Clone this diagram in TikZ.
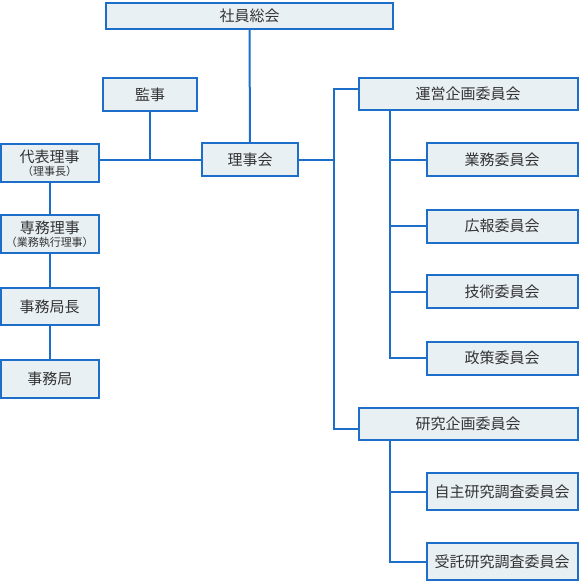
\documentclass[tikz,border=0pt]{standalone}
\usepackage{fontspec}
\setmainfont{Noto Sans CJK JP}
\usepackage{xcolor}
\definecolor{linieblau}{HTML}{1C6EC8}
\definecolor{kastenfill}{HTML}{E9F0F4}
\definecolor{schrift}{HTML}{333333}

\tikzset{
  orgbox/.style={draw=linieblau, fill=kastenfill, line width=2pt, inner sep=0pt,
    text=schrift, align=center, font=\fontsize{15}{17}\selectfont},
  orgline/.style={draw=linieblau, line width=2pt}
}
\newcommand{\klein}[1]{{\fontsize{11}{12}\selectfont #1}}

\begin{document}
\begin{tikzpicture}[x=1pt, y=-1pt]
            \useasboundingbox (0,0) rectangle (579,582);

            % Leitung links
            \node[orgbox, minimum width=287pt, minimum height=26pt] (soukai) at (249.5,15.5) {社員総会};
            \node[orgbox, minimum width=94pt, minimum height=33pt] (kanji) at (150,94.5) {監事};
            \node[orgbox, minimum width=96pt, minimum height=33pt] (rijikai) at (250,159.5) {理事会};
            \node[orgbox, minimum width=97.5pt, minimum height=38pt] (daihyo) at (49.75,163) {代表理事\\[-4pt]\klein{（理事長）}};
            \node[orgbox, minimum width=97.5pt, minimum height=38pt] (senmu) at (49.75,234) {専務理事\\[-4pt]\klein{（業務執行理事）}};
            \node[orgbox, minimum width=97.5pt, minimum height=37pt] (kyokucho) at (49.75,306.5) {事務局長};
            \node[orgbox, minimum width=97.5pt, minimum height=38pt] (kyoku) at (49.75,379) {事務局};

            % Ausschuesse rechts
            \node[orgbox, minimum width=219pt, minimum height=32pt] (unei) at (468,94) {運営企画委員会};
            \node[orgbox, minimum width=151pt, minimum height=33pt] (gyomu) at (502,159.5) {業務委員会};
            \node[orgbox, minimum width=151pt, minimum height=33pt] (koho) at (502,226) {広報委員会};
            \node[orgbox, minimum width=151pt, minimum height=33pt] (gijutsu) at (502,291.5) {技術委員会};
            \node[orgbox, minimum width=151pt, minimum height=33pt] (seisaku) at (502,358) {政策委員会};
            \node[orgbox, minimum width=219pt, minimum height=32pt] (kenkyu) at (468,424) {研究企画委員会};
            \node[orgbox, minimum width=151pt, minimum height=37pt] (jishu) at (502,491.5) {自主研究調査委員会};
            \node[orgbox, minimum width=151pt, minimum height=37pt] (jutaku) at (502,561.5) {受託研究調査委員会};

            \coordinate (stammoben) at (334,89);
            \coordinate (stammunten) at (334,429);
            \coordinate (ast) at (390,0);

            % Verbindungen
            \draw[orgline] (soukai) -- (rijikai);
            \draw[orgline] (rijikai.west) -- (rijikai.west -| daihyo.east);
            \draw[orgline] (kanji) -- (kanji |- rijikai);
            \draw[orgline] (daihyo) -- (senmu);
            \draw[orgline] (senmu) -- (kyokucho);
            \draw[orgline] (kyokucho) -- (kyoku);
            \draw[orgline] (rijikai.east) -- (rijikai.east -| stammoben);
            \draw[orgline] (unei.west |- stammoben) -- (stammoben) -- (stammunten) -- (kenkyu.west |- stammunten);

            \draw[orgline] (ast |- unei.south) -- (ast |- seisaku) -- (seisaku.west);
            \draw[orgline] (ast |- gyomu) -- (gyomu.west);
            \draw[orgline] (ast |- koho) -- (koho.west);
            \draw[orgline] (ast |- gijutsu) -- (gijutsu.west);
            \draw[orgline] (ast |- kenkyu.south) -- (ast |- jutaku) -- (jutaku.west);
            \draw[orgline] (ast |- jishu) -- (jishu.west);
        \end{tikzpicture}
\end{document}
